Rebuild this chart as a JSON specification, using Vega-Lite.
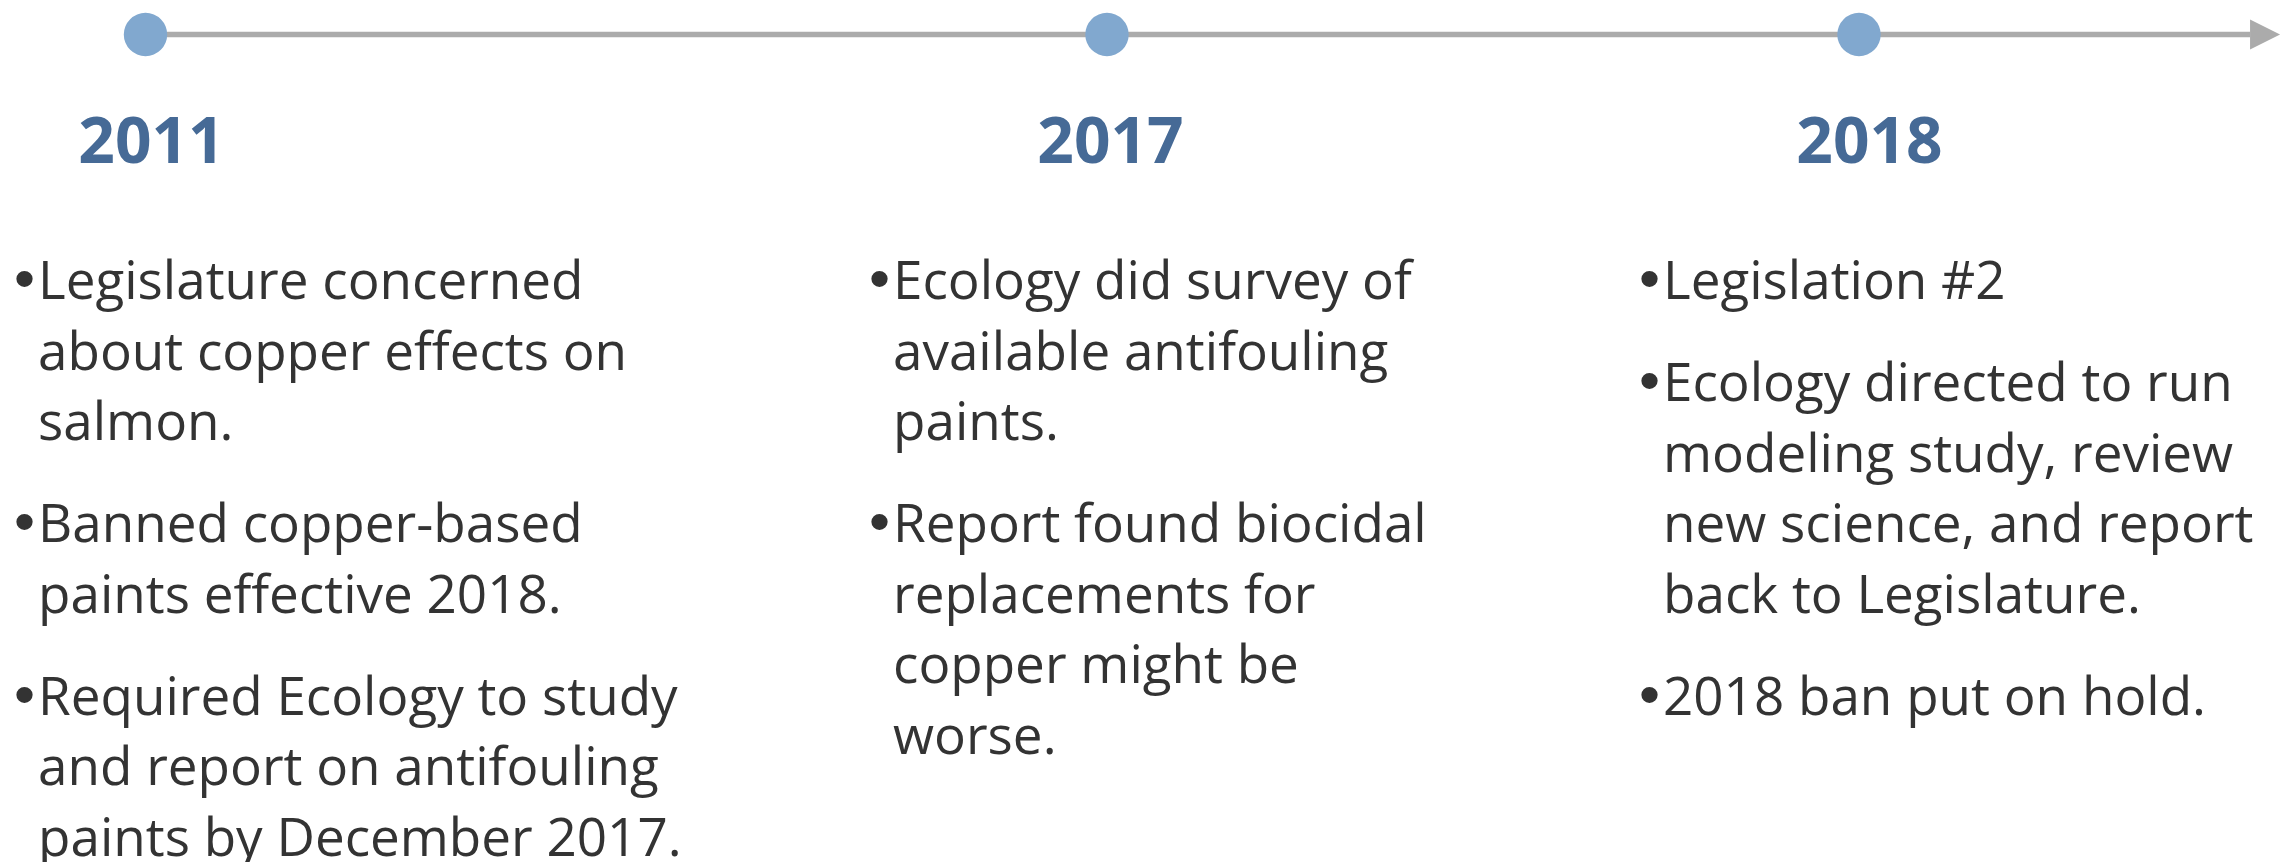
{
  "$schema": "https://vega.github.io/schema/vega-lite/v6.json",
  "width": 2287,
  "height": 862,
  "autosize": "none",
  "padding": 0,
  "background": "white",
  "config": {
    "view": {"stroke": null},
    "axis": {"disable": true},
    "legend": {"disable": true}
  },
  "datasets": {
    "events": [
      {"year": 2011, "label": "2011"},
      {"year": 2017, "label": "2017"},
      {"year": 2018, "label": "2018"}
    ],
    "notes": [
      {"year": 2011, "bullet": 0, "line": 0, "first": true, "text": "Legislature concerned"},
      {"year": 2011, "bullet": 0, "line": 1, "first": false, "text": "about copper effects on"},
      {"year": 2011, "bullet": 0, "line": 2, "first": false, "text": "salmon."},
      {"year": 2011, "bullet": 1, "line": 3, "first": true, "text": "Banned copper-based"},
      {"year": 2011, "bullet": 1, "line": 4, "first": false, "text": "paints effective 2018."},
      {"year": 2011, "bullet": 2, "line": 5, "first": true, "text": "Required Ecology to study"},
      {"year": 2011, "bullet": 2, "line": 6, "first": false, "text": "and report on antifouling"},
      {"year": 2011, "bullet": 2, "line": 7, "first": false, "text": "paints by December 2017."},
      {"year": 2017, "bullet": 0, "line": 0, "first": true, "text": "Ecology did survey of"},
      {"year": 2017, "bullet": 0, "line": 1, "first": false, "text": "available antifouling"},
      {"year": 2017, "bullet": 0, "line": 2, "first": false, "text": "paints."},
      {"year": 2017, "bullet": 1, "line": 3, "first": true, "text": "Report found biocidal"},
      {"year": 2017, "bullet": 1, "line": 4, "first": false, "text": "replacements for"},
      {"year": 2017, "bullet": 1, "line": 5, "first": false, "text": "copper might be"},
      {"year": 2017, "bullet": 1, "line": 6, "first": false, "text": "worse."},
      {"year": 2018, "bullet": 0, "line": 0, "first": true, "text": "Legislation #2"},
      {"year": 2018, "bullet": 1, "line": 1, "first": true, "text": "Ecology directed to run"},
      {"year": 2018, "bullet": 1, "line": 2, "first": false, "text": "modeling study, review"},
      {"year": 2018, "bullet": 1, "line": 3, "first": false, "text": "new science, and report"},
      {"year": 2018, "bullet": 1, "line": 4, "first": false, "text": "back to Legislature."},
      {"year": 2018, "bullet": 2, "line": 5, "first": true, "text": "2018 ban put on hold."}
    ]
  },
  "layer": [
    {
      "data": {"name": "events"},
      "encoding": {
        "x": {"field": "year", "type": "quantitative", "scale": {"domain": [2011, 2017, 2018], "range": [145.5, 1107, 1859], "nice": false, "zero": false}},
        "y": {"datum": "timeline", "type": "nominal", "scale": {"domain": ["timeline"], "range": [0, 69]}}
      },
      "layer": [
        {
          "mark": {"type": "rule", "color": "#ABABAB", "strokeWidth": 5.5},
          "encoding": {
            "x": {"aggregate": "min", "field": "year", "type": "quantitative"},
            "x2": {"datum": 2018.52}
          }
        },
        {
          "transform": [{"filter": "datum.year == 2018"}],
          "mark": {"type": "point", "shape": "M0,-1L2,0L0,1Z", "filled": true, "color": "#ABABAB", "opacity": 1, "size": 900},
          "encoding": {
            "x": {"datum": 2018.52}
          }
        },
        {
          "mark": {"type": "point", "shape": "circle", "filled": true, "color": "#81A8CF", "opacity": 1, "size": 1886}
        }
      ]
    },
    {
      "data": {"name": "events"},
      "mark": {"type": "text", "font": "Open Sans", "fontWeight": "bold", "fontSize": 64, "color": "#466A96", "align": "center", "baseline": "alphabetic"},
      "encoding": {
        "x": {"field": "year", "type": "quantitative", "scale": {"domain": [2011, 2017, 2018], "range": [151.5, 1110.5, 1869.5], "nice": false, "zero": false}},
        "y": {"datum": "year", "type": "nominal", "scale": {"domain": ["year"], "range": [130, 196]}},
        "text": {"field": "label"}
      }
    },
    {
      "data": {"name": "notes"},
      "encoding": {
        "x": {"field": "year", "type": "quantitative", "scale": {"domain": [2011, 2017, 2018], "range": [38, 893, 1663], "nice": false, "zero": false}},
        "y": {"field": "line", "type": "ordinal", "scale": {"type": "point", "domain": [0, 1, 2, 3, 4, 5, 6, 7], "range": [299, 792.5], "padding": 0}},
        "yOffset": {"field": "bullet", "type": "quantitative", "scale": {"domain": [0, 2], "range": [0, 63], "zero": false, "nice": false}}
      },
      "layer": [
        {
          "transform": [{"filter": "datum.first"}],
          "mark": {"type": "text", "text": "•", "font": "Liberation Sans", "fontSize": 60, "color": "#333333", "align": "center", "baseline": "alphabetic", "dx": -13.5}
        },
        {
          "mark": {"type": "text", "font": "Open Sans", "fontSize": 53, "color": "#333333", "align": "left", "baseline": "alphabetic"},
          "encoding": {"text": {"field": "text"}}
        }
      ]
    }
  ],
  "resolve": {"scale": {"x": "independent", "y": "independent"}}
}
